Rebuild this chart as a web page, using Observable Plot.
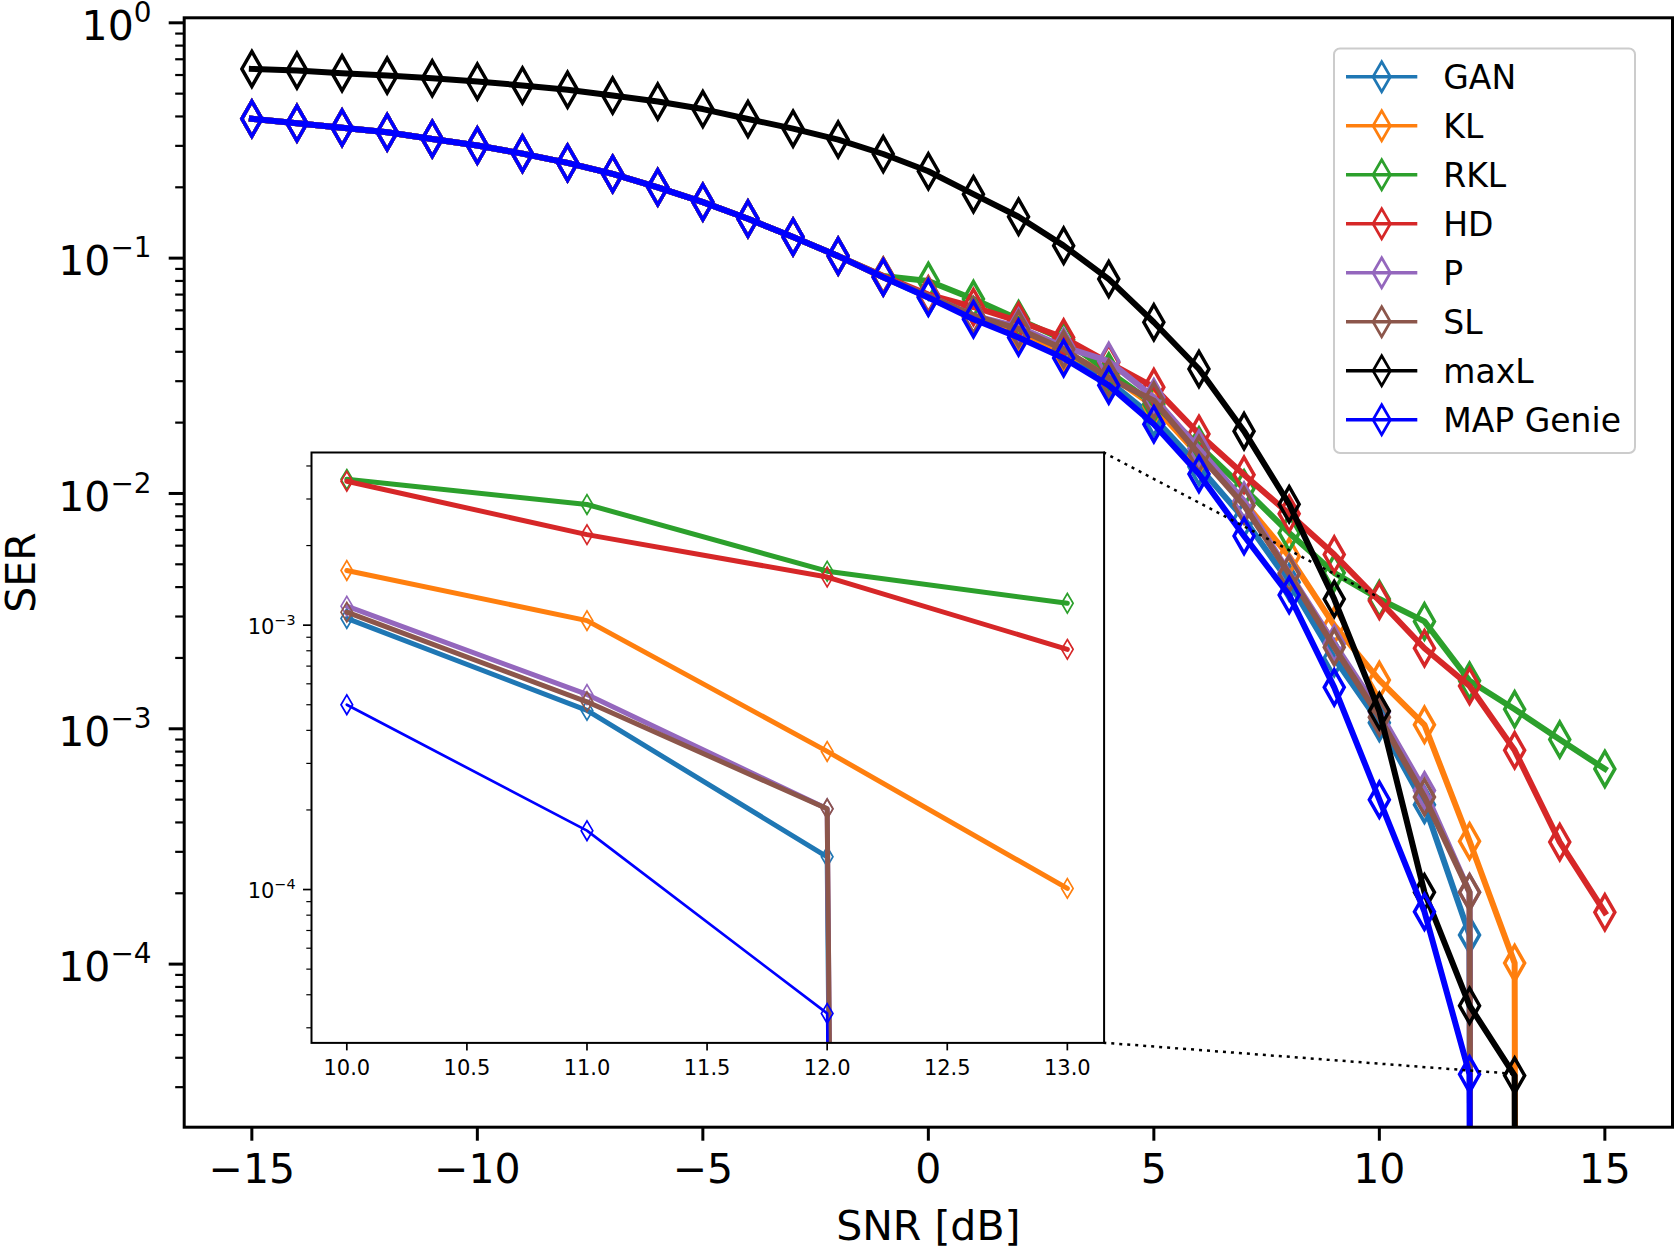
<!DOCTYPE html>
<html>
<head>
<meta charset="utf-8">
<script src="https://cdn.jsdelivr.net/npm/d3@7"></script>
<script src="https://cdn.jsdelivr.net/npm/@observablehq/plot@0.6"></script>
<style>
  html, body { margin: 0; padding: 0; background: #fff; }
  #chart { position: relative; width: 1674px; height: 1250px; overflow: hidden; font-family: "DejaVu Sans", sans-serif; }
  #chart svg { position: absolute; }
</style>
</head>
<body>
<div id="chart"></div>
<script>
// ---- data: symbol error rate vs. SNR for each decoder ----
const snr = [-15, -14, -13, -12, -11, -10, -9, -8, -7, -6, -5, -4, -3, -2, -1, 0,
             1, 2, 3, 4, 5, 6, 7, 8, 9, 10, 11, 12, 13, 14, 15];

const serGAN  = [0.391, 0.374, 0.358, 0.343, 0.321, 0.301, 0.278, 0.254, 0.228, 0.200, 0.173, 0.147, 0.123, 0.102, 0.083,
                 0.068, 0.056, 0.048, 0.039, 0.030, 0.021, 0.013, 0.0078, 0.0042, 0.0020, 1.06e-3, 4.76e-4, 1.33e-4, 0, 0, 0];
const serKL   = [0.391, 0.374, 0.358, 0.343, 0.321, 0.301, 0.278, 0.254, 0.228, 0.200, 0.173, 0.147, 0.123, 0.102, 0.083,
                 0.069, 0.056, 0.049, 0.040, 0.032, 0.0235, 0.0145, 0.0092, 0.0054, 0.00275, 1.61e-3, 1.04e-3, 3.33e-4, 1.01e-4, 0, 0];
const serRKL  = [0.391, 0.374, 0.358, 0.343, 0.321, 0.301, 0.278, 0.254, 0.228, 0.200, 0.173, 0.147, 0.123, 0.102, 0.084,
                 0.080, 0.067, 0.055, 0.045, 0.033, 0.024, 0.016, 0.0105, 0.0068, 0.0046, 3.56e-3, 2.86e-3, 1.60e-3, 1.21e-3, 9.0e-4, 6.75e-4];
const serHD   = [0.391, 0.374, 0.358, 0.343, 0.321, 0.301, 0.278, 0.254, 0.228, 0.200, 0.173, 0.147, 0.123, 0.102, 0.084,
                 0.070, 0.062, 0.054, 0.046, 0.036, 0.0283, 0.0179, 0.0120, 0.0082, 0.0055, 3.50e-3, 2.20e-3, 1.52e-3, 8.1e-4, 3.3e-4, 1.66e-4];
const serP    = [0.391, 0.374, 0.358, 0.343, 0.321, 0.301, 0.278, 0.254, 0.228, 0.200, 0.173, 0.147, 0.123, 0.102, 0.083,
                 0.069, 0.057, 0.051, 0.042, 0.0365, 0.0256, 0.0155, 0.0093, 0.0046, 0.0023, 1.18e-3, 5.47e-4, 2.02e-4, 0, 0, 0];
const serSL   = [0.391, 0.374, 0.358, 0.343, 0.321, 0.301, 0.278, 0.254, 0.228, 0.200, 0.173, 0.147, 0.123, 0.102, 0.083,
                 0.069, 0.057, 0.050, 0.041, 0.031, 0.0248, 0.0147, 0.0089, 0.00455, 0.00222, 1.12e-3, 5.13e-4, 2.02e-4, 0, 0, 0];
const serMaxL = [0.637, 0.627, 0.611, 0.597, 0.581, 0.563, 0.542, 0.519, 0.491, 0.463, 0.430, 0.390, 0.355, 0.319, 0.277,
                 0.234, 0.187, 0.150, 0.113, 0.0815, 0.0534, 0.0338, 0.0184, 0.0090, 0.00356, 1.19e-3, 2.02e-4, 6.66e-5, 3.36e-5, 0, 0];
const serMAP  = [0.391, 0.374, 0.358, 0.343, 0.321, 0.301, 0.278, 0.254, 0.228, 0.200, 0.173, 0.147, 0.123, 0.102, 0.083,
                 0.068, 0.055, 0.046, 0.0376, 0.0288, 0.0197, 0.0121, 0.0066, 0.0037, 0.0015, 5.0e-4, 1.67e-4, 3.4e-5, 0, 0, 0];

const seriesNames  = ["GAN", "KL", "RKL", "HD", "P", "SL", "maxL", "MAP Genie"];
const seriesValues = [serGAN, serKL, serRKL, serHD, serP, serSL, serMaxL, serMAP];
const seriesColors = ["#1f77b4", "#ff7f0e", "#2ca02c", "#d62728", "#9467bd", "#8c564b", "#000000", "#0000ff"];

// axis ticks
const xTicks = [-15, -10, -5, 0, 5, 10, 15];
const yTicks = [1e-4, 1e-3, 1e-2, 1e-1, 1];
const insetXTicks = [10, 10.5, 11, 11.5, 12, 12.5, 13];
const insetYTicks = [1e-4, 1e-3];
const insetSnrRange = [10, 13];          // SNR span shown in the zoomed inset
const insetSeries = ["GAN", "KL", "RKL", "HD", "P", "SL", "MAP Genie"];
const zoomCorners = [[10, 3.6e-3], [13, 3.4e-5]]; // points linked to the inset corners

// ---- layout ----
const W = 1674, H = 1250;
const FRAME = {left: 183.7, right: 1672, top: 17.3, bottom: 1126.7};
const INSET = {left: 310.7, right: 1103.3, top: 452.3, bottom: 1042.7};
const IM = {left: 95, right: 6, top: 6, bottom: 50};
const FONT = "DejaVu Sans";
const ZERO_FLOOR = 1e-100; // SER of 0 falls off the bottom of the log axis

const rows = seriesNames.map((name, i) =>
  snr.map((s, j) => ({series: name, snr: s, ser: seriesValues[i][j]})));

// matplotlib-style thin diamond marker
const thinDiamond = (hw, hh) => ({
  draw(ctx) {
    ctx.moveTo(0, -hh); ctx.lineTo(hw, 0); ctx.lineTo(0, hh); ctx.lineTo(-hw, 0); ctx.closePath();
  }
});

const minusify = (v) => (v < 0 ? "\u2212" + Math.abs(v) : String(v));
const powerLabel = (d) => "10^" + minusify(Math.round(Math.log10(d)));
const noLabel = () => "";

function logMinorTicks(lo, hi) {
  const out = [];
  for (let e = Math.floor(Math.log10(lo)); e <= Math.ceil(Math.log10(hi)); e++)
    for (let m = 2; m <= 9; m++) {
      const v = m * Math.pow(10, e);
      if (v >= lo && v <= hi) out.push(v);
    }
  return out;
}

// turn "10^-1" labels into a base with a raised exponent
function superscriptLabels(svg, shiftEm) {
  d3.select(svg).selectAll('g[aria-label="y-axis tick label"] text').each(function () {
    const t = d3.select(this);
    const s = t.text();
    if (!s.includes("^")) return;
    const [base, exp] = s.split("^");
    t.text(null);
    t.append("tspan").attr("dy", shiftEm + "em").text(base);
    t.append("tspan").attr("dy", "-0.65em").attr("font-size", "0.68em").text(exp);
  });
}

// ---- main axes ----
const yDomain = [Math.pow(10, -4.693), Math.pow(10, 0.0213)];
const mainMarks = [];
rows.forEach((data, i) => {
  mainMarks.push(Plot.line(data, {
    x: "snr", y: (d) => Math.max(d.ser, ZERO_FLOOR),
    stroke: seriesColors[i], strokeWidth: 6, strokeLinejoin: "round", strokeLinecap: "square", clip: true
  }));
  mainMarks.push(Plot.dot(data.filter((d) => d.ser > 0), {
    x: "snr", y: "ser", r: 1, symbol: thinDiamond(10, 17.5),
    stroke: seriesColors[i], strokeWidth: 3.5, fill: "none", strokeLinejoin: "miter", clip: true
  }));
});

const main = Plot.plot({
  width: W, height: H,
  marginLeft: FRAME.left, marginRight: W - FRAME.right,
  marginTop: FRAME.top, marginBottom: H - FRAME.bottom,
  x: {domain: [-16.5, 16.5]},
  y: {type: "log", domain: yDomain},
  style: {fontFamily: FONT, background: "transparent", color: "black"},
  marks: [
    ...mainMarks,
    Plot.frame({stroke: "black", strokeWidth: 3}),
    Plot.axisX({ticks: xTicks, tickSize: 14, tickPadding: 13, tickFormat: minusify,
                fontSize: 41, strokeWidth: 3, label: null}),
    Plot.axisY({ticks: yTicks, tickSize: 15, tickPadding: 17.7, tickFormat: powerLabel,
                fontSize: 41, strokeWidth: 3, label: null}),
    Plot.axisY({ticks: logMinorTicks(yDomain[0], yDomain[1]), tickSize: 8.5, tickFormat: noLabel,
                strokeWidth: 2.2, label: null}),
    Plot.text(["SER"], {frameAnchor: "left", dx: -162, rotate: -90, textAnchor: "middle",
                        lineAnchor: "middle", fontSize: 41, fill: "black"}),
    Plot.text(["SNR [dB]"], {frameAnchor: "bottom", dy: 100, textAnchor: "middle",
                             lineAnchor: "middle", fontSize: 41, fill: "black"})
  ]
});
main.style.left = "0px";
main.style.top = "0px";
superscriptLabels(main, 0.1);

// dotted connectors from the zoomed region to the inset's right corners
const sx = main.scale("x"), sy = main.scale("y");
const connectors = d3.select(main).append("g").attr("aria-label", "inset connectors");
[[INSET.right, INSET.top], [INSET.right, INSET.bottom]].forEach(([px, py], k) => {
  connectors.append("line")
    .attr("x1", px).attr("y1", py)
    .attr("x2", sx.apply(zoomCorners[k][0])).attr("y2", sy.apply(zoomCorners[k][1]))
    .attr("stroke", "black").attr("stroke-width", 2.5).attr("stroke-dasharray", "3 5");
});

// legend
const LEG = {x: 1334, y: 48.5, w: 301, h: 404.5, row0: 76.7, step: 49,
             lineX1: 1346, lineX2: 1417.3, markX: 1381.7, textX: 1443.3, font: 33};
const legend = d3.select(main).append("g").attr("aria-label", "legend");
legend.append("rect")
  .attr("x", LEG.x).attr("y", LEG.y).attr("width", LEG.w).attr("height", LEG.h)
  .attr("rx", 6).attr("fill", "white").attr("fill-opacity", 0.8)
  .attr("stroke", "#cccccc").attr("stroke-width", 2);
const legMark = d3.symbol(thinDiamond(8.7, 15))();
seriesNames.forEach((name, i) => {
  const cy = LEG.row0 + i * LEG.step;
  legend.append("line").attr("x1", LEG.lineX1).attr("x2", LEG.lineX2).attr("y1", cy).attr("y2", cy)
    .attr("stroke", seriesColors[i]).attr("stroke-width", 3.5);
  legend.append("path").attr("d", legMark).attr("transform", `translate(${LEG.markX},${cy})`)
    .attr("fill", "none").attr("stroke", seriesColors[i]).attr("stroke-width", 2.7);
  legend.append("text").attr("x", LEG.textX).attr("y", cy + 0.36 * LEG.font)
    .attr("text-anchor", "start")
    .attr("font-size", LEG.font).attr("font-family", FONT).attr("fill", "black").text(name);
});

// ---- zoomed inset ----
const insetYDomain = [Math.pow(10, -4.58), Math.pow(10, -2.347)];
const insetMarks = [Plot.frame({fill: "white"})];
rows.forEach((data, i) => {
  if (!insetSeries.includes(seriesNames[i])) return;
  const part = data.filter((d) => d.snr >= insetSnrRange[0] && d.snr <= insetSnrRange[1]);
  const thin = seriesNames[i] === "MAP Genie";
  insetMarks.push(Plot.line(part, {
    x: "snr", y: (d) => Math.max(d.ser, ZERO_FLOOR),
    stroke: seriesColors[i], strokeWidth: thin ? 2.7 : 5, strokeLinejoin: "round", clip: true
  }));
  insetMarks.push(Plot.dot(part.filter((d) => d.ser > 0), {
    x: "snr", y: "ser", r: 1, symbol: thinDiamond(5.8, 9.8),
    stroke: seriesColors[i], strokeWidth: 1.7, fill: "none", strokeLinejoin: "miter", clip: true
  }));
});

const insetW = IM.left + (INSET.right - INSET.left) + IM.right;
const insetH = IM.top + (INSET.bottom - INSET.top) + IM.bottom;
const inset = Plot.plot({
  width: insetW, height: insetH,
  marginLeft: IM.left, marginRight: IM.right, marginTop: IM.top, marginBottom: IM.bottom,
  x: {domain: [9.853, 13.153]},
  y: {type: "log", domain: insetYDomain},
  style: {fontFamily: FONT, background: "transparent", color: "black", overflow: "visible"},
  marks: [
    ...insetMarks,
    Plot.frame({stroke: "black", strokeWidth: 2}),
    Plot.axisX({ticks: insetXTicks, tickSize: 8, tickPadding: 9, tickFormat: (d) => d.toFixed(1),
                fontSize: 21, strokeWidth: 1.7, label: null}),
    Plot.axisY({ticks: insetYTicks, tickSize: 8, tickPadding: 8, tickFormat: powerLabel,
                fontSize: 21, strokeWidth: 1.7, label: null}),
    Plot.axisY({ticks: logMinorTicks(insetYDomain[0], insetYDomain[1]), tickSize: 4.7, tickFormat: noLabel,
                strokeWidth: 1.2, label: null})
  ]
});
inset.style.left = (INSET.left - IM.left) + "px";
inset.style.top = (INSET.top - IM.top) + "px";
superscriptLabels(inset, 0.1);

const chart = document.getElementById("chart");
chart.appendChild(main);
chart.appendChild(inset);
</script>
</body>
</html>
